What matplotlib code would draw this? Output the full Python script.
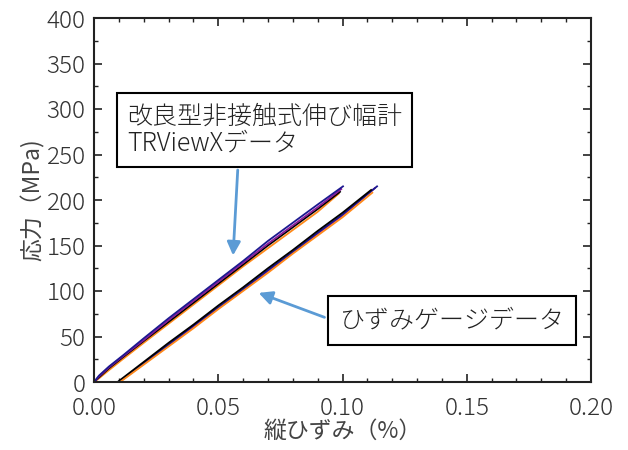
import matplotlib
matplotlib.use("Agg")
import matplotlib.pyplot as plt
from matplotlib.ticker import MultipleLocator

plt.rcParams['font.family'] = ['Noto Sans CJK JP', 'DejaVu Sans']
plt.rcParams['font.weight'] = 'light'

# TRViewX (non-contact extensometer) curves: strain (%) / stress (MPa)
trv_navy_x = [0.000, 0.002, 0.006, 0.012, 0.020, 0.030, 0.040, 0.050, 0.060, 0.070, 0.080, 0.090, 0.1002]
trv_navy_y = [0, 7, 17, 30, 48, 70, 91, 112, 133, 155, 175, 195, 215]
trv_purple_x = [0.000, 0.002, 0.006, 0.012, 0.020, 0.030, 0.040, 0.050, 0.060, 0.070, 0.080, 0.090, 0.0995]
trv_purple_y = [0, 6, 16, 29, 46, 68, 89, 110, 131, 152, 172, 192, 212]
trv_black_x = [0.000, 0.002, 0.006, 0.012, 0.020, 0.030, 0.040, 0.050, 0.060, 0.070, 0.080, 0.090, 0.0990]
trv_black_y = [0, 5, 15, 28, 45, 66, 87, 108, 129, 150, 170, 190, 209]
trv_orange_x = [0.000, 0.002, 0.006, 0.012, 0.020, 0.030, 0.040, 0.050, 0.060, 0.070, 0.080, 0.090, 0.0985]
trv_orange_y = [0, 4, 13, 26, 43, 64, 85, 106, 127, 147, 167, 187, 207]

# strain gauge curves
sg_black_x = [0.0095, 0.020, 0.030, 0.040, 0.050, 0.060, 0.070, 0.080, 0.090, 0.100, 0.1115]
sg_black_y = [0, 22, 43, 63, 84, 104, 125, 145, 166, 186, 211]
sg_navy_x = [0.0100, 0.020, 0.030, 0.040, 0.050, 0.060, 0.070, 0.080, 0.090, 0.100, 0.1139]
sg_navy_y = [0, 21, 41, 62, 82, 102, 123, 143, 164, 184, 215]
sg_purple_x = [0.0102, 0.020, 0.030, 0.040, 0.050, 0.060, 0.070, 0.080, 0.090, 0.100, 0.1130]
sg_purple_y = [0, 20, 40, 61, 81, 101, 122, 142, 163, 183, 213]
sg_orange_x = [0.0105, 0.020, 0.030, 0.040, 0.050, 0.060, 0.070, 0.080, 0.090, 0.100, 0.1120]
sg_orange_y = [0, 19, 39, 59, 80, 100, 120, 141, 161, 181, 208]

navy = "#1c1890"
purple = "#8a1a9a"
orange = "#ff8a1a"
arrow_blue = "#5b9bd5"

fig = plt.figure(figsize=(6.28, 4.5), dpi=100)
ax = fig.add_axes([94 / 628, 1 - 382 / 450, 497 / 628, 364 / 450])

lw = 1.3
ax.plot(trv_orange_x, trv_orange_y, color=orange, lw=lw)
ax.plot(trv_black_x, trv_black_y, color="black", lw=lw)
ax.plot(trv_purple_x, trv_purple_y, color=purple, lw=lw)
ax.plot(trv_navy_x, trv_navy_y, color=navy, lw=lw)

ax.plot(sg_purple_x, sg_purple_y, color=purple, lw=lw)
ax.plot(sg_navy_x, sg_navy_y, color=navy, lw=lw)
ax.plot(sg_black_x, sg_black_y, color="black", lw=lw)
ax.plot(sg_orange_x, sg_orange_y, color=orange, lw=lw)

ax.set_xlim(0, 0.2)
ax.set_ylim(0, 400)
ax.xaxis.set_major_locator(MultipleLocator(0.05))
ax.xaxis.set_minor_locator(MultipleLocator(0.01))
ax.yaxis.set_major_locator(MultipleLocator(50))
ax.yaxis.set_minor_locator(MultipleLocator(25))
ax.xaxis.set_major_formatter(plt.FuncFormatter(lambda v, p: f"{v:.2f}"))
ax.tick_params(which="both", direction="in", top=True, right=True,
               colors="#222222", labelcolor="#333333", labelsize=17.5)
ax.tick_params(which="major", length=6, width=1.2)
ax.tick_params(which="minor", length=3, width=1.0)
ax.tick_params(axis="x", which="major", pad=10)
ax.tick_params(axis="y", which="major", pad=6)
for s in ax.spines.values():
    s.set_linewidth(1.5)
    s.set_color("#222222")

ax.set_xlabel("縦ひずみ（%）", fontsize=16.5, color="#444444", labelpad=-1)
ax.set_ylabel("応力（MPa)", fontsize=16.5, color="#444444", labelpad=1)

# arrows
ax.annotate("", xy=(0.0559, 136), xytext=(0.0579, 236),
            arrowprops=dict(arrowstyle="-|>,head_length=0.8,head_width=0.4",
                            color=arrow_blue, lw=2))
ax.annotate("", xy=(0.0652, 99), xytext=(0.0938, 70),
            arrowprops=dict(arrowstyle="-|>,head_length=0.8,head_width=0.4",
                            color=arrow_blue, lw=2))

ax.text(0.0688, 277, "改良型非接触式伸び幅計\nTRViewXデータ", fontsize=18,
        ha="center", va="center", multialignment="left",
        bbox=dict(boxstyle="square,pad=0.4", facecolor="white", edgecolor="black", lw=1.5),
        color="#222222", linespacing=1.05)
ax.text(0.1441, 68, "ひずみゲージデータ", fontsize=18, ha="center", va="center",
        bbox=dict(boxstyle="square,pad=0.45", facecolor="white", edgecolor="black", lw=1.5),
        color="#222222")

fig.savefig("out.png", dpi=100)
